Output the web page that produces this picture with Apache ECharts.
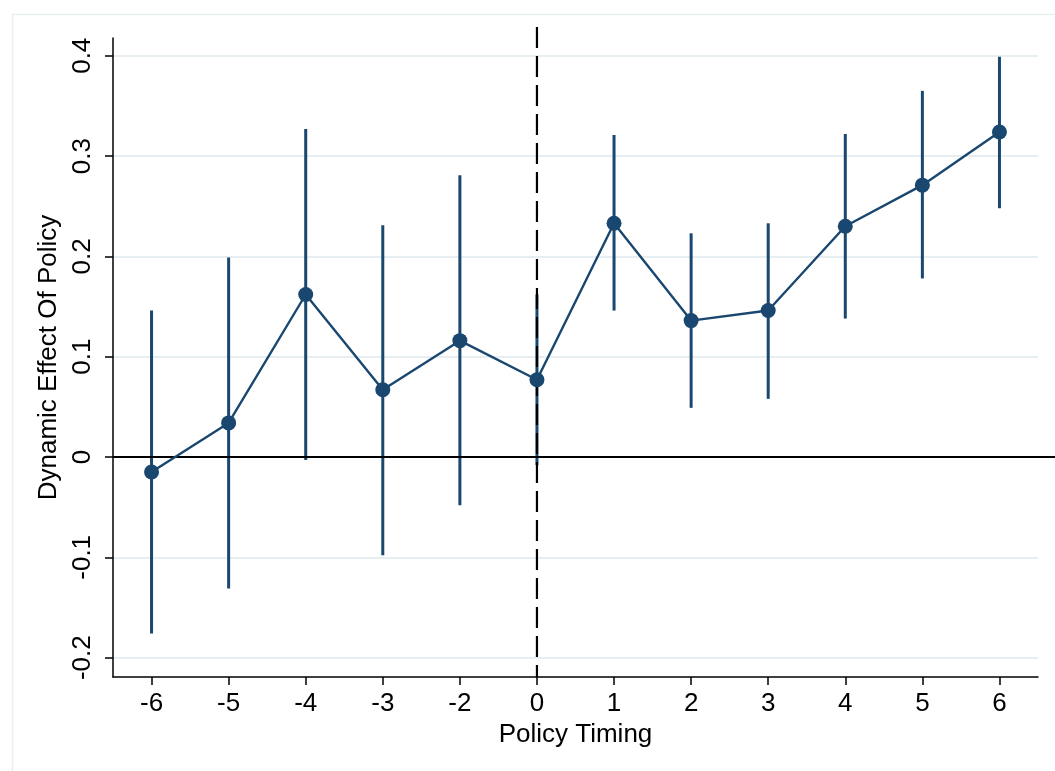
<!DOCTYPE html>
<html>
<head>
<meta charset="utf-8">
<title>Dynamic Effect Of Policy</title>
<script src="https://cdn.jsdelivr.net/npm/echarts@6/dist/echarts.min.js"></script>
<style>
  html, body { margin: 0; padding: 0; background: #fff; }
  #main { width: 1055px; height: 771px; }
</style>
</head>
<body>
<div id="main"></div>
<script>
// 数据
const timing = ["-6", "-5", "-4", "-3", "-2", "0", "1", "2", "3", "4", "5", "6"];
const effect = [-0.015, 0.034, 0.162, 0.067, 0.116, 0.077, 0.233, 0.136, 0.146, 0.230, 0.271, 0.324];
const ciLow = [-0.176, -0.131, -0.003, -0.098, -0.048, -0.008, 0.146, 0.049, 0.058, 0.138, 0.178, 0.248];
const ciHigh = [0.146, 0.199, 0.327, 0.231, 0.281, 0.162, 0.321, 0.223, 0.233, 0.322, 0.365, 0.399];
const yTicks = [-0.2, -0.1, 0, 0.1, 0.2, 0.3, 0.4];
const yMin = -0.2193;
const yMax = 0.4177;
const policyAt = "0";

const navy = "#1a476f";
const font = "Liberation Sans, Arial, sans-serif";

const myChart = echarts.init(document.querySelector("#main"));
const option = {
  animation: false,
  backgroundColor: "#fff",
  // 外框
  graphic: [
    {
      type: "rect",
      left: 10,
      top: 12,
      shape: { width: 1100, height: 800 },
      style: { fill: "none", stroke: "#e8eff1", lineWidth: 1.5 },
      silent: true,
    },
  ],
  grid: {
    left: 113,
    right: 17,
    top: 38,
    bottom: 94,
    containLabel: false,
  },
  xAxis: {
    type: "category",
    data: timing,
    boundaryGap: true,
    name: "Policy Timing",
    nameLocation: "middle",
    nameGap: 41,
    nameTextStyle: { color: "#000", fontSize: 26, fontFamily: font },
    axisLine: { show: true, onZero: false, lineStyle: { color: "#000", width: 1.5 } },
    axisTick: { show: true, alignWithLabel: true, length: 8, lineStyle: { color: "#000", width: 1.5 } },
    axisLabel: { color: "#000", fontSize: 26, fontFamily: font, margin: 14, interval: 0 },
    splitLine: { show: false },
  },
  yAxis: {
    type: "value",
    min: yMin,
    max: yMax,
    name: "Dynamic Effect Of Policy",
    nameLocation: "middle",
    nameRotate: 90,
    nameGap: 39,
    nameTextStyle: { color: "#000", fontSize: 26, fontFamily: font },
    axisLine: { show: true, onZero: false, lineStyle: { color: "#000", width: 1.5 } },
    axisTick: { show: true, length: 8, customValues: yTicks, lineStyle: { color: "#000", width: 1.5 } },
    axisLabel: {
      color: "#000",
      fontSize: 26,
      fontFamily: font,
      rotate: 90,
      margin: 17,
      customValues: yTicks,
      formatter: (v) => String(Math.round(v * 10) / 10),
    },
    splitLine: { show: true, lineStyle: { color: "#e6eef1", width: 2 } },
  },
  series: [
    // 置信区间
    {
      type: "custom",
      z: 2,
      data: timing.map((t, i) => [i, ciLow[i], ciHigh[i]]),
      renderItem: (params, api) => {
        const lo = api.coord([api.value(0), api.value(1)]);
        const hi = api.coord([api.value(0), api.value(2)]);
        return {
          type: "line",
          shape: { x1: lo[0], y1: lo[1], x2: hi[0], y2: hi[1] },
          style: { stroke: navy, lineWidth: 3 },
        };
      },
    },
    // 零线
    {
      type: "custom",
      z: 3,
      data: [[0, 0]],
      renderItem: (params, api) => {
        const p = api.coord([0, 0]);
        const half = api.size([1, 0])[0] / 2;
        return {
          type: "line",
          shape: { x1: p[0] - half, y1: p[1], x2: api.getWidth(), y2: p[1] },
          style: { stroke: "#000", lineWidth: 2 },
        };
      },
    },
    // 政策时点
    {
      type: "custom",
      z: 3,
      data: [[timing.indexOf(policyAt), 0]],
      renderItem: (params, api) => {
        const top = api.coord([api.value(0), yMax]);
        const bottom = api.coord([api.value(0), yMin]);
        return {
          type: "line",
          shape: { x1: top[0], y1: top[1] - 11, x2: bottom[0], y2: bottom[1] },
          style: { stroke: "#000", lineWidth: 2.2, lineDash: [21, 8] },
        };
      },
    },
    // 估计值
    {
      type: "line",
      z: 4,
      data: effect,
      symbol: "circle",
      symbolSize: 15,
      itemStyle: { color: navy },
      lineStyle: { color: navy, width: 2.4 },
    },
  ],
};
myChart.setOption(option);
</script>
</body>
</html>
